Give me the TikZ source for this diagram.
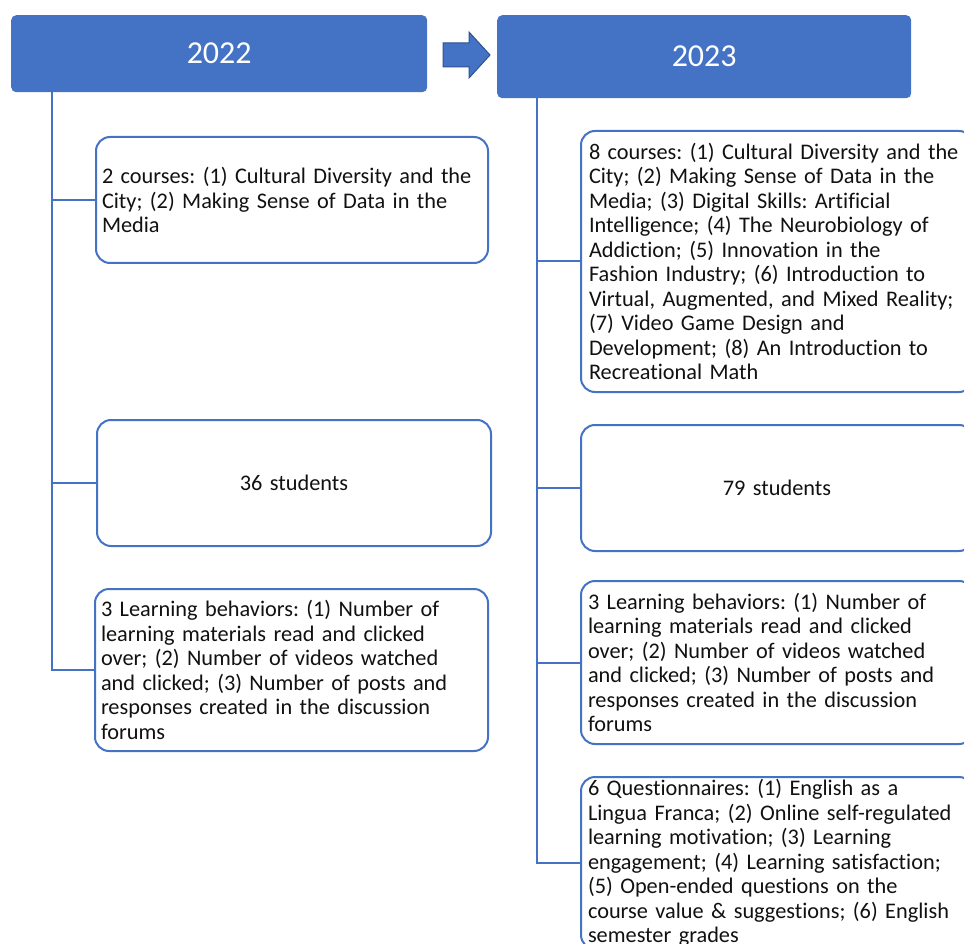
\documentclass[tikz,border=0pt]{standalone}
\usepackage{fontspec}
\setmainfont{Carlito}[Ligatures=NoCommon]
\frenchspacing
\definecolor{boxblue}{HTML}{4472C4}
\definecolor{arrowedge}{HTML}{2F528F}
\definecolor{bodytext}{HTML}{111111}
\newcommand{\bodyfnt}{\fontsize{22.3}{24.5}\selectfont}
\begin{document}
\begin{tikzpicture}[x=1pt,y=-1pt,
  header/.style={fill=boxblue, draw=none, rounded corners=5pt, anchor=north west,
    text=white, font=\fontsize{32}{38}\selectfont, inner sep=0pt},
  infobox/.style={draw=boxblue, line width=2pt, rounded corners=14pt, fill=white,
    font=\bodyfnt, text=bodytext, align=left, inner xsep=6pt, inner ysep=0pt, anchor=north west},
  link/.style={draw=boxblue, line width=2pt}]
\useasboundingbox (0,0) rectangle (964,944);
% headers
\node[header, minimum width=416pt, minimum height=77pt] (h22) at (11,15) {2022};
\node[header, minimum width=414pt, minimum height=83pt] (h23) at (497,15) {2023};
% block arrow
\draw[fill=boxblue, draw=arrowedge, line width=1pt]
  (443,43) -- (469,43) -- (469,32) -- (490,55) -- (469,78) -- (469,67) -- (443,67) -- cycle;
% left column boxes
\node[infobox, minimum width=392pt, minimum height=126pt, text width=380pt] (lb1) at (95,136)
  {2 courses: (1) Cultural Diversity and the\\City; (2) Making Sense of Data in the\\Media};
\node[infobox, minimum width=394pt, minimum height=126pt, text width=382pt, align=center] (lb2) at (96,419)
  {36 students};
\node[infobox, minimum width=393pt, minimum height=162pt, text width=381pt] (lb3) at (94,588)
  {3 Learning behaviors: (1) Number of\\learning materials read and clicked\\over; (2) Number of videos watched\\and clicked; (3) Number of posts and\\responses created in the discussion\\forums};
% right column boxes
\node[infobox, minimum width=392pt, minimum height=261pt, text width=376pt, inner xsep=8pt] (rb1) at (580,130)
  {8 courses: (1) Cultural Diversity and the\\City; (2) Making Sense of Data in the\\Media; (3) Digital Skills: Artificial\\Intelligence; (4) The Neurobiology of\\Addiction; (5) Innovation in the\\Fashion Industry; (6) Introduction to\\Virtual, Augmented, and Mixed Reality;\\(7) Video Game Design and\\Development; (8) An Introduction to\\Recreational Math};
\node[infobox, minimum width=392pt, minimum height=126pt, text width=380pt, align=center] (rb2) at (580,424)
  {79 students};
\node[infobox, minimum width=392pt, minimum height=163pt, text width=378pt, inner xsep=7pt] (rb3) at (580,580)
  {3 Learning behaviors: (1) Number of\\learning materials read and clicked\\over; (2) Number of videos watched\\and clicked; (3) Number of posts and\\responses created in the discussion\\forums};
\node[infobox, minimum width=392pt, minimum height=172pt, text width=378pt, inner xsep=7pt] (rb4) at (580,776)
  {6 Questionnaires: (1) English as a\\Lingua Franca; (2) Online self-regulated\\learning motivation; (3) Learning\\engagement; (4) Learning satisfaction;\\(5) Open-ended questions on the\\course value \& suggestions; (6) English\\semester grades};
% connectors
\coordinate (ltop) at (52,92);
\coordinate (rtop) at (537,98);
\draw[link] (ltop) |- (lb3.west);
\draw[link] (ltop |- lb1.west) -- (lb1.west);
\draw[link] (ltop |- lb2.west) -- (lb2.west);
\draw[link] (rtop) |- (rb4.west);
\draw[link] (rtop |- rb1.west) -- (rb1.west);
\draw[link] (rtop |- rb2.west) -- (rb2.west);
\draw[link] (rtop |- rb3.west) -- (rb3.west);
\end{tikzpicture}
\end{document}
